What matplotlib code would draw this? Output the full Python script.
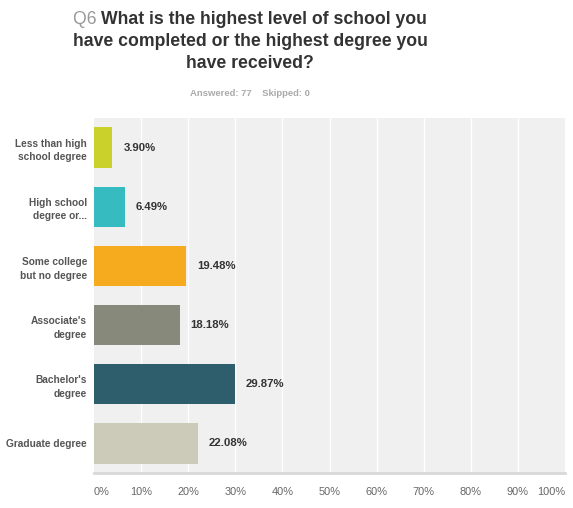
import matplotlib
matplotlib.use("Agg")
import matplotlib.pyplot as plt

categories = [
    "Less than high\nschool degree",
    "High school\ndegree or...",
    "Some college\nbut no degree",
    "Associate's\ndegree",
    "Bachelor's\ndegree",
    "Graduate degree",
]
percentages = [3.90, 6.49, 19.48, 18.18, 29.87, 22.08]
bar_colors = ["#CBD12B", "#36BCC0", "#F6AB1E", "#878A7A", "#2E5E6C", "#CCCBBA"]
tick_values = [0, 10, 20, 30, 40, 50, 60, 70, 80, 90, 100]
tick_labels = [f"{v}%" for v in tick_values]

W, H = 573, 508
fig = plt.figure(figsize=(W / 100, H / 100), dpi=100)
fig.patch.set_facecolor("white")

font = "Liberation Sans"

# plot area in pixel coordinates
left, right, top, bottom = 94, 565, 118, 473
ax = fig.add_axes([left / W, 1 - bottom / H, (right - left) / W, (bottom - top) / H])
ax.set_facecolor("#F0F0F0")

y = list(range(len(categories)))
ax.barh(y, percentages, height=0.68, color=bar_colors, zorder=3)
ax.set_xlim(0, 100)
ax.set_ylim(len(categories) - 0.5, -0.5)

for v in tick_values[1:-1]:
    ax.axvline(v, color="white", lw=1.0, zorder=1)

for s in ["top", "right", "left"]:
    ax.spines[s].set_visible(False)
ax.spines["bottom"].set_color("#D8D8D8")
ax.spines["bottom"].set_linewidth(2.0)

ax.set_yticks(y)
ax.set_yticklabels(categories, fontsize=7.3, fontweight="bold", color="#555555",
                   family=font, linespacing=1.45)
ax.tick_params(axis="y", length=0, pad=5)

ax.set_xticks(tick_values)
ax.set_xticklabels(tick_labels, fontsize=7.9, color="#666666", family=font)
ax.tick_params(axis="x", length=0, pad=10)
xt = ax.get_xticklabels()
xt[0].set_horizontalalignment("left")
xt[-1].set_horizontalalignment("right")

for yi, val in zip(y, percentages):
    ax.annotate(f"{val:.2f}%", xy=(val, yi), xytext=(8, 0), textcoords="offset points",
                ha="left", va="center", fontsize=8.2, fontweight="bold", color="#333333",
                family=font, zorder=4)

# title: "Q6" prefix in grey, question text in dark grey
fig.canvas.draw()
renderer = fig.canvas.get_renderer()
cx = 250
title_size = 12.7
q = fig.text(0, 0, "Q6 ", fontsize=title_size, color="#999999", family=font)
rest = fig.text(0, 0, "What is the highest level of school you", fontsize=title_size,
                fontweight="bold", color="#333333", family=font)
wq = q.get_window_extent(renderer).width
wr = rest.get_window_extent(renderer).width
x0 = cx - (wq + wr) / 2
line1_y = 1 - 19 / H
q.set_position((x0 / W, line1_y))
q.set_verticalalignment("center")
rest.set_position(((x0 + wq) / W, line1_y))
rest.set_verticalalignment("center")
fig.text(cx / W, 1 - 42 / H, "have completed or the highest degree you", fontsize=title_size,
         fontweight="bold", color="#333333", family=font, ha="center", va="center")
fig.text(cx / W, 1 - 64 / H, "have received?", fontsize=title_size,
         fontweight="bold", color="#333333", family=font, ha="center", va="center")

fig.text(cx / W, 1 - 93 / H, "Answered: 77    Skipped: 0", fontsize=6.8,
         fontweight="bold", color="#AAAAAA", family=font, ha="center", va="center")

fig.savefig("out.png", dpi=100)
